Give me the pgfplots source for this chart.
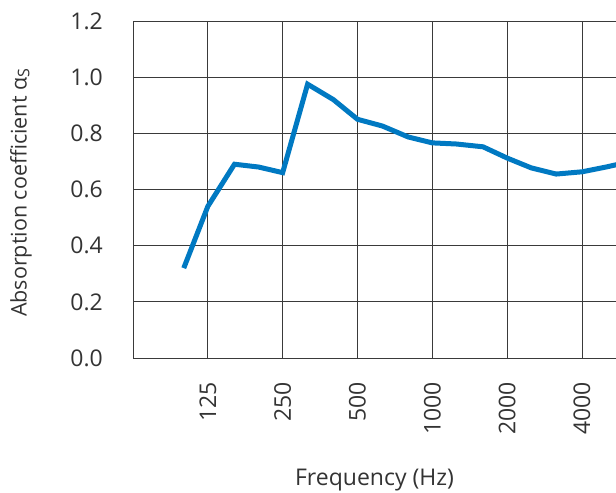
\documentclass[border=0pt]{standalone}
\usepackage{fontspec}
\setmainfont{Open Sans}
\usepackage{pgfplots}
\pgfplotsset{compat=1.18}
\definecolor{lineblue}{HTML}{0079C2}
\definecolor{gridgray}{HTML}{3A3A3A}
\definecolor{textgray}{HTML}{333333}
\begin{document}
\fontsize{23bp}{27bp}\selectfont
\begin{tikzpicture}
\useasboundingbox (-133bp,-135bp) rectangle (483bp,358bp);
\begin{axis}[
    at={(0,0)}, anchor=south west,
    scale only axis, width=483bp, height=337bp,
    xmode=log, log basis x=2,
    xmin=62.5, xmax=5483,
    ymin=0, ymax=1.2,
    xtick={125,250,500,1000,2000,4000},
    xticklabels={125,250,500,1000,2000,4000},
    ytick={0,0.2,0.4,0.6,0.8,1.0,1.2},
    /pgf/number format/.cd, fixed, fixed zerofill, precision=1, assume math mode=true,
    /pgfplots/.cd,
    grid=major,
    grid style={gridgray, line width=0.9bp},
    axis x line=bottom, axis y line=left,
    axis line style={-, gridgray, line width=0.9bp},
    major tick length=0pt,
    tick label style={font=\fontsize{23bp}{27bp}\selectfont, text=textgray},
    x tick label style={rotate=90, anchor=east, inner sep=0pt},
    xticklabel shift=24bp,
    y tick label style={anchor=east, inner sep=0pt},
    yticklabel shift=30bp,
    xlabel={Frequency (Hz)},
    ylabel={Absorption coefficient α\raisebox{-0.25ex}{\fontsize{16bp}{18bp}\selectfont S}},
    xlabel style={font=\fontsize{23bp}{27bp}\selectfont, text=textgray,
        at={(axis description cs:0.5,-0.362)}, anchor=center},
    ylabel style={font=\fontsize{21.5bp}{25bp}\selectfont, text=textgray,
        at={(axis description cs:-0.232,0.49)}, anchor=center},
]
\addplot[lineblue, line width=5bp] coordinates {
    (100,0.32) (125,0.54) (160,0.69) (200,0.68) (250,0.66)
    (315,0.975) (400,0.92) (500,0.85) (630,0.826) (800,0.787)
    (1000,0.766) (1250,0.762) (1600,0.752) (2000,0.712) (2500,0.677)
    (3150,0.655) (4000,0.663) (5000,0.68) (6300,0.70)
};
\end{axis}
\end{tikzpicture}
\end{document}
